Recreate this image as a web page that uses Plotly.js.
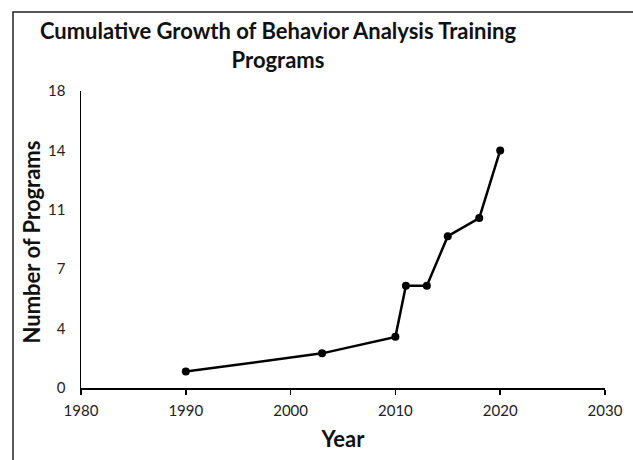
<!DOCTYPE html>
<html>
<head>
<meta charset="utf-8">
<script src="https://cdn.plot.ly/plotly-3.0.1.min.js"></script>
<style>html,body{margin:0;padding:0;background:#fff;}#chart{width:633px;height:460px;}</style>
</head>
<body>
<div id="chart"></div>
<script>
const years = [1990, 2003, 2010, 2011, 2013, 2015, 2018, 2020];
const programs = [1.0, 2.1, 3.1, 6.2, 6.2, 9.2, 10.3, 14.4];
const yTickVals = [0, 3.6, 7.2, 10.8, 14.4, 18];
const yTickText = ["0", "4", "7", "11", "14", "18"];
const xTickVals = [1980, 1990, 2000, 2010, 2020, 2030];

const W = 633, H = 460, L = 81, R = 28, T = 91, B = 72;
const pw = W - L - R, ph = H - T - B;
function px(x) { return (x - L) / pw; }
function py(y) { return (H - B - y) / ph; }

const trace = {
  x: years, y: programs, type: 'scatter', mode: 'lines+markers',
  line: {color: '#000', width: 2.5},
  marker: {color: '#000', size: 8},
  hoverinfo: 'none', showlegend: false
};

const layout = {
  width: W, height: H,
  margin: {l: L, r: R, t: T, b: B},
  paper_bgcolor: '#fff', plot_bgcolor: '#fff',
  font: {family: 'Lato, "Open Sans", sans-serif', color: '#222'},
  title: {
    text: '<b>Cumulative Growth of Behavior Analysis Training<br>Programs</b>',
    font: {family: 'Lato, "Open Sans", sans-serif', size: 22, color: '#111'},
    x: 278 / W, xref: 'container', xanchor: 'center',
    y: 1 - 39 / H, yref: 'container', yanchor: 'top'
  },
  xaxis: {
    range: [1980, 2030], tickvals: xTickVals,
    showgrid: false, zeroline: false,
    showline: true, linecolor: '#000', linewidth: 1.5,
    ticks: 'outside', ticklen: 5, tickcolor: '#000', tickwidth: 1.5,
    ticklabelstandoff: 3,
    tickfont: {size: 15, color: '#222'},
    title: {text: '<b>Year</b>', font: {size: 22, color: '#111'}, standoff: 14}
  },
  yaxis: {
    range: [0, 18], tickvals: yTickVals, ticktext: yTickText,
    showgrid: false, zeroline: false,
    showline: true, linecolor: '#000', linewidth: 1.5,
    ticks: '', ticklabelstandoff: 11,
    tickfont: {size: 15, color: '#222'}
  },
  annotations: [{
    text: '<b>Number of Programs</b>', textangle: -90,
    xref: 'paper', yref: 'paper', x: px(31), y: 0.49,
    xanchor: 'center', yanchor: 'middle', showarrow: false,
    font: {size: 22, color: '#111'}
  }],
  shapes: [{
    type: 'rect', xref: 'paper', yref: 'paper',
    x0: px(13), x1: px(W + 10), y0: py(H + 10), y1: py(12),
    line: {color: '#222', width: 1.5}, fillcolor: 'rgba(0,0,0,0)', layer: 'below'
  }]
};

Plotly.newPlot('chart', [trace], layout, {staticPlot: true, displayModeBar: false});
</script>
</body>
</html>
